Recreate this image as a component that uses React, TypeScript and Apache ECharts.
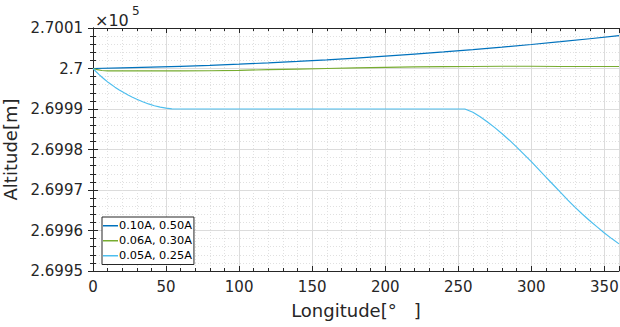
import React, { useEffect, useRef } from "react";
import * as echarts from "echarts";

const legendNames = ["0.10A, 0.50A", "0.06A, 0.30A", "0.05A, 0.25A"];
const colors = ["#0072BD", "#77AC30", "#4DBEEE"];

const lonBlue = [0, 20, 40, 60, 80, 100, 120, 140, 160, 180, 200, 220, 240, 260, 280, 300, 320, 340, 360];
const altBlue = [270000, 270000.14, 270000.32, 270000.54, 270000.79, 270001.07, 270001.4, 270001.76, 270002.15, 270002.58, 270003.05, 270003.56, 270004.1, 270004.67, 270005.28, 270005.93, 270006.62, 270007.34, 270008.1];

const lonGreen = [0, 3, 6, 10, 20, 40, 60, 80, 100, 120, 140, 160, 180, 200, 220, 240, 260, 280, 300, 320, 340, 360];
const altGreen = [270000, 269999.7, 269999.5, 269999.42, 269999.4, 269999.4, 269999.4, 269999.45, 269999.55, 269999.7, 269999.85, 270000, 270000.15, 270000.3, 270000.4, 270000.45, 270000.5, 270000.55, 270000.55, 270000.5, 270000.5, 270000.5];

const lonLight = [0, 2, 4, 6, 8, 10, 12, 15, 18, 21, 24, 27, 30, 34, 38, 42, 46, 50, 54, 58, 150, 254.5, 260, 265, 270, 275, 280, 285, 290, 295, 300, 305, 310, 315, 320, 325, 330, 335, 340, 345, 350, 355, 360];
const altLight = [270000, 269999.25, 269998.55, 269997.9, 269997.3, 269996.7, 269996.15, 269995.4, 269994.7, 269994.05, 269993.45, 269992.9, 269992.4, 269991.8, 269991.25, 269990.8, 269990.45, 269990.2, 269990.05, 269990, 269990, 269990, 269989.2, 269988.1, 269986.8, 269985.4, 269983.9, 269982.3, 269980.6, 269978.8, 269977, 269975.1, 269973.2, 269971.3, 269969.4, 269967.5, 269965.7, 269964, 269962.4, 269960.9, 269959.4, 269958, 269956.7];

const xTicks = { min: 0, max: 360, interval: 50 };
const yTicks = { min: 269950, max: 270010, interval: 10 };

const FONT = "'DejaVu Sans', sans-serif";

function zip(xs: number[], ys: number[]) {
  return xs.map((x, i) => [x, ys[i]]);
}

export default function App() {
  const ref = useRef<HTMLDivElement>(null);
  useEffect(() => {
    if (!ref.current) return;
    const chart = echarts.init(ref.current, null, { renderer: "svg" });
    const axisCommon = {
      axisLine: { show: true, lineStyle: { color: "#262626", width: 1 } },
      axisTick: { show: true, inside: true, length: 5, lineStyle: { color: "#262626" } },
      minorTick: { show: true, splitNumber: 5, length: 3, lineStyle: { color: "#262626" } },
    };
    const option: any = {
      animation: false,
      backgroundColor: "#ffffff",
      textStyle: { fontFamily: FONT },
      title: [
        {
          text: "×10",
          left: 95,
          top: 12,
          padding: 0,
          textStyle: { fontSize: 16, fontWeight: "normal", color: "#262626", fontFamily: FONT },
        },
        {
          text: "5",
          left: 132,
          top: 5,
          padding: 0,
          textStyle: { fontSize: 12, fontWeight: "normal", color: "#262626", fontFamily: FONT },
        },
      ],
      grid: { left: 93, right: 1, top: 28, bottom: 56, show: false, containLabel: false, outerBoundsMode: "none" },
      legend: {
        data: legendNames,
        orient: "vertical",
        left: 102,
        top: 217,
        icon: "rect",
        backgroundColor: "#ffffff",
        borderColor: "#262626",
        borderWidth: 1,
        padding: [2, 2, 2, 1],
        itemGap: 1.5,
        itemWidth: 15,
        itemHeight: 1.5,
        textStyle: { fontFamily: FONT, fontSize: 11.3, color: "#000", padding: [0, 0, 0, -4], lineHeight: 13.5 },
      },
      xAxis: [
        {
          type: "value",
          ...xTicks,
          position: "bottom",
          ...axisCommon,
          axisLabel: { color: "#262626", fontSize: 15, margin: 8, fontFamily: FONT },
          splitLine: { show: true, lineStyle: { color: "#dcdcdc", width: 1 } },
          minorSplitLine: { show: true, lineStyle: { color: "#e0e0e0", width: 1, type: [1, 2] } },
          name: "Longitude[°   ]",
          nameLocation: "middle",
          nameGap: 30,
          nameTextStyle: { fontSize: 18, color: "#262626", fontFamily: FONT },
        },
        {
          type: "value",
          ...xTicks,
          position: "top",
          ...axisCommon,
          axisLabel: { show: false },
          splitLine: { show: false },
        },
      ],
      yAxis: [
        {
          type: "value",
          ...yTicks,
          position: "left",
          ...axisCommon,
          axisLabel: {
            color: "#262626",
            fontSize: 15,
            margin: 10,
            fontFamily: FONT,
            formatter: (v: number) => parseFloat((v / 1e5).toFixed(4)).toString(),
          },
          splitLine: { show: true, lineStyle: { color: "#dcdcdc", width: 1 } },
          minorSplitLine: { show: true, lineStyle: { color: "#e0e0e0", width: 1, type: [1, 2] } },
          name: "Altitude[m]",
          nameLocation: "middle",
          nameGap: 57,
          nameRotate: 90,
          nameTextStyle: { fontSize: 18, color: "#262626", fontFamily: FONT },
        },
        {
          type: "value",
          ...yTicks,
          position: "right",
          ...axisCommon,
          axisLabel: { show: false },
          splitLine: { show: false },
        },
      ],
      series: [
        { name: legendNames[0], data: zip(lonBlue, altBlue) },
        { name: legendNames[1], data: zip(lonGreen, altGreen) },
        { name: legendNames[2], data: zip(lonLight, altLight) },
      ].map((s, i) => ({
        ...s,
        type: "line",
        xAxisIndex: 0,
        yAxisIndex: 0,
        showSymbol: false,
        symbol: "none",
        smooth: false,
        color: colors[i],
        lineStyle: { color: colors[i], width: 1.2 },
      })),
    };
    chart.setOption(option);
    return () => chart.dispose();
  }, []);
  return (
    <div
      ref={ref}
      style={{ position: "absolute", left: 0, top: 0, width: 620, height: 327 }}
    />
  );
}
